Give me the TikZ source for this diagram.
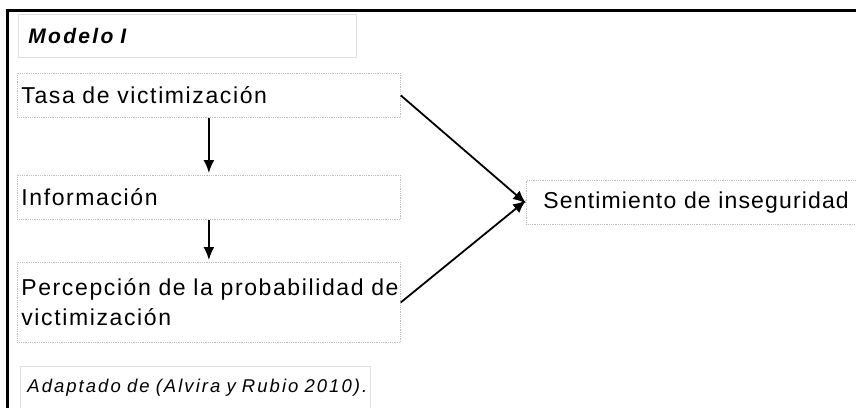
\documentclass[tikz,border=0pt]{standalone}
\usepackage{fontspec}
\setmainfont{Liberation Sans}
\newfontfamily\boxfont[LetterSpace=7]{Liberation Sans}
\newfontfamily\sentfont[LetterSpace=5]{Liberation Sans}
\newfontfamily\notefont[LetterSpace=11]{Liberation Sans}
\usetikzlibrary{arrows.meta}
\definecolor{boxline}{RGB}{190,190,190}

\begin{document}
\begin{tikzpicture}[x=1pt,y=-1pt,
  box/.style={draw=boxline,densely dotted,line width=0.8pt,anchor=north west,
    inner xsep=4pt,inner ysep=0pt,text width=375pt,minimum height=44pt,align=left,
    font=\boxfont\fontsize{23}{30}\selectfont},
  note/.style={draw=boxline!50,line width=0.8pt,anchor=north west,inner ysep=0pt,align=left},
  arr/.style={-{Latex[length=13pt,width=11pt]},line width=1.8pt}]
\useasboundingbox (0,0) rectangle (856,407);

% frame
\draw[line width=3pt] (7,430) -- (7,10) -- (880,10);

% title and source
\node[note,inner xsep=10pt,text width=318pt,minimum height=43pt,
  font=\notefont\fontsize{21}{24}\selectfont\bfseries\itshape] (model) at (18,14) {Modelo I};
\node[note,inner xsep=7pt,text width=336pt,minimum height=42pt,
  font=\notefont\fontsize{18.5}{20}\selectfont\itshape] (src) at (20,366) {\mbox{Adaptado de (Alvira y Rubio 2010).}};

% boxes
\node[box] (tasa) at (17,73) {Tasa de victimización};
\node[box] (info) at (17,175) {Información};
\node[box,minimum height=80pt] (percep) at (17,262) {\mbox{Percepción de la probabilidad de}\\victimización};
\node[box,inner xsep=17pt,text width=330pt,font=\sentfont\fontsize{23}{30}\selectfont] (sent) at (526,180) {Sentimiento de inseguridad};

% arrows
\draw[arr,shorten >=2pt] (tasa) -- (info);
\draw[arr,shorten >=2pt] (info) -- (percep);
\draw[arr] (tasa.east) -- ([yshift=-1pt]sent.west);
\draw[arr] (percep.east) -- ([yshift=2pt]sent.west);

\end{tikzpicture}
\end{document}
